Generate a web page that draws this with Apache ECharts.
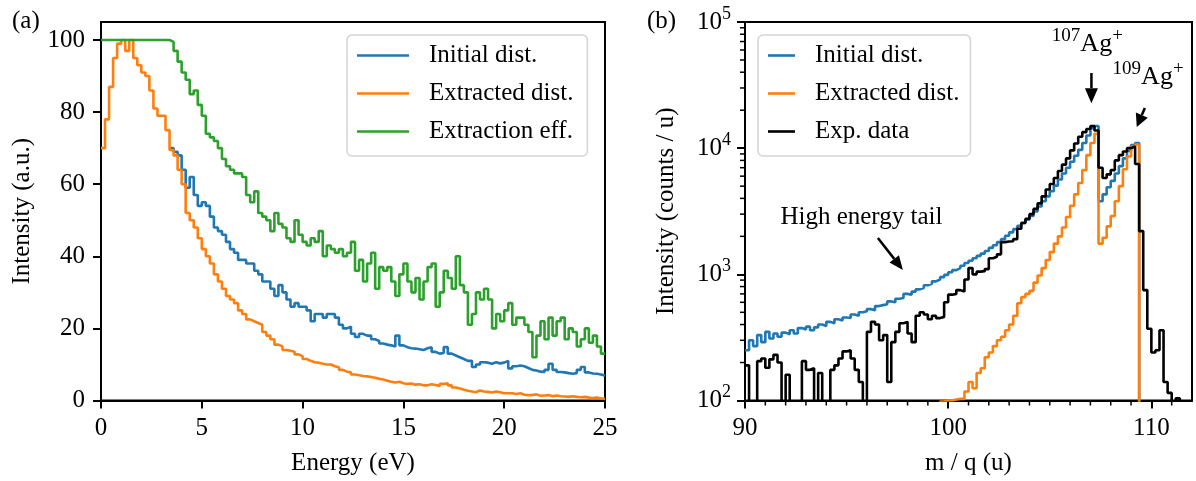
<!DOCTYPE html>
<html>
<head>
<meta charset="utf-8">
<script src="https://cdn.jsdelivr.net/npm/echarts@6/dist/echarts.min.js"></script>
<style>
html, body { margin: 0; padding: 0; background: #fff; }
#main { width: 1196px; height: 481px; }
</style>
</head>
<body>
<div id="main"></div>
<script>
// (a) energy distributions, bins of 0.2 eV
var energyStart = 0, energyStep = 0.2, energyEnd = 25;
var initialStart = 3.4; // below this the initial curve sits under the extracted one
var extractedDist = [
  70, 78, 87, 95, 99, 100, 97, 100, 95, 93,
  91, 90, 86, 81, 79, 79, 75, 69.5, 68, 64,
  60, 52, 50, 48, 45, 42, 40, 38, 35, 33,
  31, 29, 28, 27, 25, 24, 22.5, 22, 21.5, 21,
  19, 18, 17, 15.5, 15, 14, 13.8, 13.5, 12.8, 12.3,
  11.5, 11, 10.6, 10.5, 10.2, 10, 10, 9.5, 9.2, 8.5,
  8, 7.8, 7.2, 7, 6.8, 6.7, 6.5, 6.3, 6, 5.8,
  5.5, 5.2, 5, 5.2, 4.8, 4.6, 4.7, 4.4, 4.5, 4.2,
  4.2, 4.5, 4.3, 4.0, 4.6, 4.8, 4.2, 3.6, 3.3, 3.0,
  2.7, 2.5, 2.3, 2.8, 2.5, 2.4, 2.2, 2.5, 2.3, 2.0,
  2, 2, 1.8, 2, 1.6, 1.5, 1.5, 1.7, 1.3, 1.4,
  1.5, 1.2, 1.4, 1.2, 1.1, 1.0, 1.2, 1.0, 0.9, 1.0,
  0.8, 0.7, 0.8, 0.6, 0.5
];
var initialDist = [
  70, 69, 68, 64, 59, 62, 57, 54, 55, 54,
  51, 48, 47, 46, 44, 42, 41, 39, 39, 38,
  38, 36, 35, 33, 33, 31, 29, 32, 30, 28,
  26, 27, 26, 26, 25, 22, 24, 24, 23, 24,
  24, 23, 21, 20, 20.5, 18.5, 17.6, 18.5, 18, 18,
  17, 16.5, 15.8, 15.5, 15.3, 15, 18, 15.3, 14.8, 14.5,
  14.4, 14.2, 14, 14.5, 14.8, 13.5, 13, 13.2, 14.8, 13,
  12.5, 12, 11.5, 11, 11, 9.3, 10, 10.6, 10.5, 10.2,
  10.6, 10.3, 10.5, 11, 8.9, 9.5, 9.7, 9.5, 9, 8.5,
  8.3, 8, 7.9, 8.5, 10.2, 8.5, 7.9, 7.8, 7.6, 7.4,
  7.6, 8.5, 9.3, 7.8, 7.5, 7.4, 7.2, 6.9
];
var extractionEff = [
  100, 100, 100, 100, 100, 100, 100, 100, 100, 100,
  100, 100, 100, 100, 100, 100, 100, 99.5, 97, 94,
  91, 89, 85, 86, 82, 79, 74, 73, 72, 70,
  67, 65, 64, 63, 63, 62, 57, 55, 58, 52,
  51, 50, 47, 52, 49, 48, 45, 44, 50, 46,
  44, 43, 45, 44, 47, 40, 43, 42, 41, 42,
  40, 41, 44, 36, 39, 33, 38, 41, 31, 37,
  36, 37, 33, 29, 35, 38, 33, 30, 34, 28,
  33, 37, 38, 26, 30, 36, 34, 31, 40, 32,
  30, 21, 24, 30, 28, 31, 28, 20, 24, 22,
  25, 27, 21, 23, 23, 21, 19, 12, 18, 22,
  17, 23, 18, 22, 23, 17, 20, 19, 15, 17,
  20, 16, 18, 15, 13
];

// (b) mass spectra, bins of 0.2 u; 1 means empty (below the axis)
var massStart = 90, massStep = 0.2, massEnd = 112;
var initialMass = [
  250, 300, 270, 330, 290, 350, 310, 340, 320, 345,
  335, 360, 340, 375, 365, 385, 360, 380, 400, 390,
  420, 410, 440, 430, 455, 450, 480, 470, 500, 510,
  530, 520, 560, 570, 580, 610, 600, 640, 650, 700,
  690, 730, 760, 780, 820, 840, 880, 910, 950, 990,
  1040, 1080, 1120, 1170, 1230, 1280, 1340, 1400, 1460, 1530,
  1620, 1700, 1800, 1900, 2020, 2150, 2280, 2420, 2560, 2720,
  2900, 3150, 3450, 3800, 4150, 4550, 5050, 5650, 6300, 7000,
  7800, 8700, 9700, 11000, 12600, 14400, 15000, 3800, 4300, 4900,
  5500, 6300, 7200, 8300, 9500, 10600, 11000, 1, 1, 1,
  1, 1, 1, 1, 1, 1, 1, 1, 1, 1
];
var extractedMass = [
  1, 1, 1, 1, 1, 1, 1, 1, 1, 1,
  1, 1, 1, 1, 1, 1, 1, 1, 1, 1,
  1, 1, 1, 1, 1, 1, 1, 1, 1, 1,
  1, 1, 1, 1, 1, 1, 1, 1, 1, 1,
  1, 1, 1, 1, 1, 1, 1, 1, 98, 100,
  100, 102, 103, 103, 118, 140, 125, 165, 180, 220,
  240, 270, 300, 320, 360, 400, 470, 590, 660, 700,
  740, 860, 980, 1120, 1300, 1500, 1750, 2000, 2350, 2850,
  3500, 4300, 5300, 6700, 8800, 11000, 13000, 1750, 1950, 2400,
  2900, 3800, 5000, 6800, 8600, 10300, 10700, 1, 1, 1,
  1, 1, 1, 1, 1, 1, 1, 1, 1, 1
];
var expMass = [
  190, 1, 1, 205, 215, 182, 212, 230, 200, 1,
  160, 1, 1, 1, 205, 175, 180, 1, 165, 1,
  1, 175, 190, 215, 245, 250, 215, 175, 140, 1,
  350, 420, 400, 300, 330, 140, 290, 350, 410, 420,
  340, 290, 470, 500, 480, 440, 470, 450, 460, 600,
  690, 700, 750, 730, 910, 1120, 1000, 1050, 1060, 1100,
  1340, 1380, 1440, 1800, 1820, 1830, 1900, 2300, 2550, 2750,
  3000, 3300, 3650, 4150, 4700, 5200, 5800, 6600, 7400, 8300,
  9600, 10900, 12300, 13400, 14200, 15000, 13800, 7000, 5800, 6200,
  6700, 8000, 8800, 9400, 10000, 10300, 7500, 2200, 750, 370,
  240, 250, 360, 140, 115, 1, 104, 1, 1, 1
];

var energyTicks = [0, 20, 40, 60, 80, 100];
var massTicks = [90, 100, 110];
var massMinorTicks = [91, 92, 93, 94, 95, 96, 97, 98, 99, 101, 102, 103, 104, 105, 106, 107, 108, 109, 111];
var logMinorTicks = [200, 300, 400, 500, 600, 700, 800, 900,
  2000, 3000, 4000, 5000, 6000, 7000, 8000, 9000,
  20000, 30000, 40000, 50000, 60000, 70000, 80000, 90000];

var FONT = "'Liberation Serif', 'DejaVu Serif', serif";
var C_BLUE = '#1f77b4', C_ORANGE = '#ff7f0e', C_GREEN = '#2ca02c';

function steps(start, step, values, end) {
  var pts = values.map(function (v, i) { return [+(start + i * step).toFixed(2), v]; });
  pts.push([end, values[values.length - 1]]);
  return pts;
}

function stepLine(name, color, gi, data) {
  return {
    name: name, type: 'line', step: 'end', xAxisIndex: gi, yAxisIndex: gi,
    data: data, showSymbol: false, symbol: 'none', clip: true,
    lineStyle: { color: color, width: 2.6 }, itemStyle: { color: color }
  };
}

function axisBase() {
  return {
    axisLine: { lineStyle: { color: '#000', width: 2 } },
    axisTick: { length: 8, lineStyle: { color: '#000', width: 2 } },
    axisLabel: { color: '#000', fontFamily: FONT, fontSize: 25 },
    splitLine: { show: false },
    nameTextStyle: { color: '#000', fontFamily: FONT, fontSize: 25 }
  };
}

function minorTicks(data, dx, dy) {
  return {
    type: 'custom', xAxisIndex: 1, yAxisIndex: 1, silent: true, clip: false, z: 10,
    data: data,
    renderItem: function (params, api) {
      var c = api.coord([api.value(0), api.value(1)]);
      return { type: 'line', shape: { x1: c[0], y1: c[1], x2: c[0] + dx, y2: c[1] + dy },
        style: { stroke: '#000', lineWidth: 1.5 } };
    }
  };
}

var chart = echarts.init(document.getElementById('main'));

var xa0 = axisBase(), xa1 = axisBase(), ya0 = axisBase(), ya1 = axisBase();
Object.assign(xa0, { type: 'value', gridIndex: 0, min: 0, max: 25, interval: 5,
  name: 'Energy (eV)', nameLocation: 'middle', nameGap: 50 });
xa0.axisLabel.margin = 15;
Object.assign(xa1, { type: 'value', gridIndex: 1, min: 90, max: 112, interval: 10,
  name: 'm / q (u)', nameLocation: 'middle', nameGap: 50 });
xa1.axisLabel.margin = 15;
xa1.axisLabel.customValues = massTicks;
xa1.axisTick.customValues = massTicks;
Object.assign(ya0, { type: 'value', gridIndex: 0, min: 0, max: 105, interval: 20,
  name: 'Intensity (a.u.)', nameLocation: 'middle', nameGap: 66 });
ya0.axisLabel.margin = 16;
ya0.axisLabel.customValues = energyTicks;
ya0.axisTick.customValues = energyTicks;
Object.assign(ya1, { type: 'log', logBase: 10, gridIndex: 1, min: 100, max: 100000,
  name: 'Intensity (counts / u)', nameLocation: 'middle', nameGap: 66 });
ya1.axisLabel.margin = 14;
ya1.axisLabel.formatter = function (v) { return '{b|10}{s|' + Math.round(Math.log10(v)) + '}'; };
ya1.axisLabel.rich = {
  b: { fontFamily: FONT, fontSize: 25, color: '#000', lineHeight: 34 },
  s: { fontFamily: FONT, fontSize: 18, color: '#000', lineHeight: 18, verticalAlign: 'top' }
};

function legendBox(names, left, handle, padR) {
  return {
    data: names, orient: 'vertical', left: left, top: 35, icon: 'rect',
    itemWidth: handle, itemHeight: 2.6, itemGap: 13, selectedMode: false,
    padding: [8, padR, 12, 10],
    backgroundColor: 'rgba(255,255,255,0.85)', borderColor: '#d4d4d4', borderWidth: 1.5, borderRadius: 5,
    textStyle: { fontFamily: FONT, fontSize: 25, color: '#000', lineHeight: 25, padding: [0, 0, 0, 15] }
  };
}

var option = {
  animation: false,
  backgroundColor: '#fff',
  grid: [
    { left: 101, right: 591, top: 22, bottom: 80.5, show: true, borderColor: '#000', borderWidth: 2 },
    { left: 745, right: 4, top: 22, bottom: 80.5, show: true, borderColor: '#000', borderWidth: 2 }
  ],
  xAxis: [xa0, xa1],
  yAxis: [ya0, ya1],
  legend: [
    legendBox(['Initial dist.', 'Extracted dist.', 'Extraction eff.'], 347, 52, 14),
    legendBox(['Initial dist.', 'Extracted dist.', 'Exp. data'], 758, 27, 11)
  ],
  series: [
    stepLine('Initial dist.', C_BLUE, 0, steps(initialStart, energyStep, initialDist, energyEnd)),
    stepLine('Extracted dist.', C_ORANGE, 0, steps(energyStart, energyStep, extractedDist, energyEnd)),
    stepLine('Extraction eff.', C_GREEN, 0, steps(energyStart, energyStep, extractionEff, energyEnd)),
    stepLine('Initial dist.', C_BLUE, 1, steps(massStart, massStep, initialMass, massEnd)),
    stepLine('Extracted dist.', C_ORANGE, 1, steps(massStart, massStep, extractedMass, massEnd)),
    stepLine('Exp. data', '#000', 1, steps(massStart, massStep, expMass, massEnd)),
    minorTicks(logMinorTicks.map(function (v) { return [90, v]; }), -5, 0),
    minorTicks(massMinorTicks.map(function (m) { return [m, 100]; }), 0, 5)
  ]
};
chart.setOption(option);

// annotations placed in data coordinates of panel (b)
function px(x, y) { return chart.convertToPixel({ xAxisIndex: 1, yAxisIndex: 1 }, [x, y]); }
function arrow(from, to, head, half) {
  var a = px(from[0], from[1]), b = px(to[0], to[1]);
  var dx = b[0] - a[0], dy = b[1] - a[1], len = Math.sqrt(dx * dx + dy * dy);
  var ux = dx / len, uy = dy / len;
  var bx = b[0] - ux * head, by = b[1] - uy * head;
  return [
    { type: 'line', shape: { x1: a[0], y1: a[1], x2: bx, y2: by }, style: { stroke: '#000', lineWidth: 2.5 }, z: 20 },
    { type: 'polygon', shape: { points: [[b[0], b[1]], [bx - uy * half, by + ux * half], [bx + uy * half, by - ux * half]] },
      style: { fill: '#000' }, z: 20 }
  ];
}
function isotope(mass, x, y) {
  var p = px(x, y);
  return {
    type: 'text', x: p[0], y: p[1], z: 20,
    style: {
      text: '{s|' + mass + '}{b|Ag}{s|+}', align: 'center', verticalAlign: 'middle',
      rich: {
        s: { fontFamily: FONT, fontSize: 19, fill: '#000', lineHeight: 19, verticalAlign: 'top' },
        b: { fontFamily: FONT, fontSize: 26, fill: '#000', lineHeight: 36 }
      }
    }
  };
}
var tailPos = px(95.73, 2800);
var graphic = [
  { type: 'text', left: 12, top: 9, style: { text: '(a)', fontFamily: FONT, fontSize: 25, fill: '#000' } },
  { type: 'text', left: 647, top: 9, style: { text: '(b)', fontFamily: FONT, fontSize: 25, fill: '#000' } },
  { type: 'text', x: tailPos[0], y: tailPos[1], z: 20,
    style: { text: 'High energy tail', fontFamily: FONT, fontSize: 25, fill: '#000', align: 'center', verticalAlign: 'middle' } },
  isotope(107, 106.85, 66700),
  isotope(109, 109.84, 36600)
].concat(
  arrow([107.05, 39400], [107.05, 22750], 15, 6.5),
  arrow([109.68, 20800], [109.28, 14700], 13, 6.5),
  arrow([96.54, 1940], [97.77, 1084], 14, 6)
);
chart.setOption({ graphic: graphic });
</script>
</body>
</html>
